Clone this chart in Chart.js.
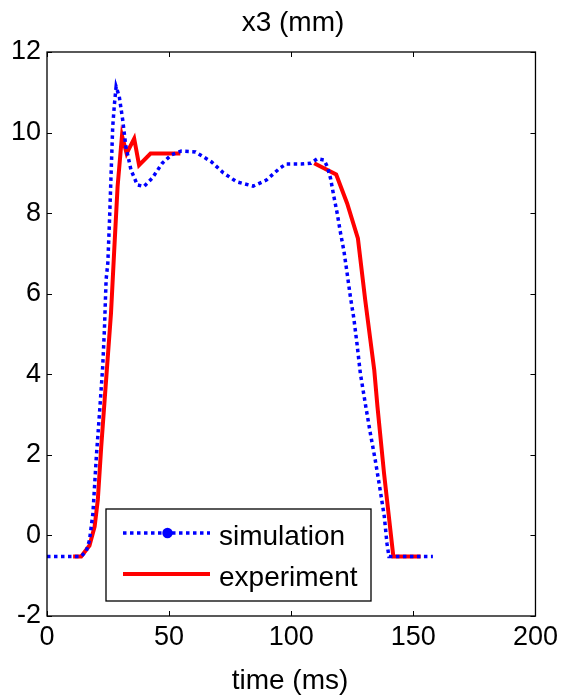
<!DOCTYPE html>
<html>
<head>
<meta charset="utf-8">
<script src="https://cdn.jsdelivr.net/npm/chart.js@4.4.1/dist/chart.umd.min.js"></script>
<style>
  html, body { margin: 0; padding: 0; background: #fff; }
  canvas { display: block; }
</style>
</head>
<body>
<canvas id="c" width="563" height="698"></canvas>
<script>
// ---- data ----
const simT = [0, 14, 16, 17.4, 18.8, 20.2, 21.5, 22.8, 23.5, 24.2, 24.9, 25.6, 26.2, 26.9, 27.6, 28.3, 29.6, 31, 32.3, 34.4, 37, 39.7, 43.1, 47.2, 51, 55, 60.8, 67.4, 72.2, 77.6, 84.4, 89.8, 95.2, 97.9, 104, 108, 110.7, 113.4, 114.8, 116.1, 117.5, 118.8, 120.2, 121.6, 122.9, 124.2, 125.6, 126.9, 128.3, 130.3, 132.4, 134.4, 136.4, 138.1, 139.2, 140, 158];
const simV = [-0.52, -0.52, -0.4, -0.12, 0.55, 1.95, 3.04, 4.18, 5.1, 6.35, 6.76, 7.83, 8.9, 10.14, 10.7, 11.14, 10.89, 10.31, 9.65, 9.07, 8.7, 8.66, 8.87, 9.24, 9.45, 9.54, 9.52, 9.27, 9.0, 8.78, 8.67, 8.82, 9.11, 9.22, 9.22, 9.24, 9.35, 9.32, 9.15, 8.86, 8.4, 8.0, 7.5, 7.05, 6.5, 5.93, 5.4, 4.77, 4.02, 3.28, 2.53, 1.87, 1.13, 0.47, -0.2, -0.52, -0.52];
const expT = [10.7, 14, 17.4, 19.5, 20.8, 22.2, 24.2, 26.2, 27.6, 28.9, 30.7, 32.6, 35.7, 37.7, 42.4, 54.6, 80, 109.4, 118.4, 122.9, 127.3, 130.3, 134, 135.3, 138, 141.8, 153];
const expV = [-0.52, -0.52, -0.25, 0.22, 0.88, 2.2, 3.86, 5.51, 7.17, 8.66, 9.92, 9.48, 9.85, 9.19, 9.48, 9.48, null, 9.24, 8.96, 8.24, 7.37, 5.84, 4.1, 3.2, 1.54, -0.52, -0.52];
const xTicks = [0, 50, 100, 150, 200];
const yTicks = [-2, 0, 2, 4, 6, 8, 10, 12];
const seriesNames = ['simulation', 'experiment'];
const titleText = 'x3 (mm)';
const xLabelText = 'time (ms)';

const FONT = '"Liberation Sans", Arial, sans-serif';
const FS = 28;
const FT = 27;
const BLUE = '#0000ff';
const RED = '#ff0000';

const frame = {
  id: 'frame',
  afterDraw(chart) {
    const ctx = chart.ctx;
    const a = chart.chartArea;
    const xs = chart.scales.x, ys = chart.scales.y;
    ctx.save();
    // box
    ctx.strokeStyle = '#000';
    ctx.lineWidth = 1.3;
    ctx.strokeRect(a.left, a.top, a.right - a.left, a.bottom - a.top);
    // inward ticks on all sides
    const L = 5;
    ctx.beginPath();
    xTicks.forEach(v => {
      const px = Math.round(xs.getPixelForValue(v)) + 0.5;
      ctx.moveTo(px, a.bottom); ctx.lineTo(px, a.bottom - L);
      ctx.moveTo(px, a.top); ctx.lineTo(px, a.top + L);
    });
    yTicks.forEach(v => {
      const py = Math.round(ys.getPixelForValue(v)) + 0.5;
      ctx.moveTo(a.left, py); ctx.lineTo(a.left + L, py);
      ctx.moveTo(a.right, py); ctx.lineTo(a.right - L, py);
    });
    ctx.lineWidth = 1;
    ctx.stroke();
    // title and x label
    ctx.fillStyle = '#000';
    ctx.font = FS + 'px ' + FONT;
    ctx.textAlign = 'center';
    ctx.textBaseline = 'middle';
    ctx.fillText(titleText, 293, 23);
    ctx.fillText(xLabelText, 290, 681);
    // legend
    const bx = 106, by = 509, bw = 265, bh = 92;
    ctx.fillStyle = '#fff';
    ctx.fillRect(bx, by, bw, bh);
    ctx.strokeStyle = '#000';
    ctx.lineWidth = 1.3;
    ctx.strokeRect(bx, by, bw, bh);
    // simulation sample
    ctx.strokeStyle = BLUE;
    ctx.lineWidth = 3.5;
    ctx.setLineDash([3.5, 3.5]);
    ctx.beginPath(); ctx.moveTo(123, 533); ctx.lineTo(210, 533); ctx.stroke();
    ctx.setLineDash([]);
    ctx.fillStyle = BLUE;
    ctx.beginPath(); ctx.arc(167.5, 533, 5.2, 0, Math.PI * 2); ctx.fill();
    // experiment sample
    ctx.strokeStyle = RED;
    ctx.lineWidth = 4;
    ctx.beginPath(); ctx.moveTo(123, 574); ctx.lineTo(210, 574); ctx.stroke();
    ctx.fillStyle = '#000';
    ctx.textAlign = 'left';
    ctx.fillText(seriesNames[0], 219, 537);
    ctx.fillText(seriesNames[1], 219, 578);
    ctx.restore();
  }
};

new Chart(document.getElementById('c'), {
  type: 'line',
  data: {
    datasets: [
      {
        label: seriesNames[0],
        data: simT.map((t, i) => ({ x: t, y: simV[i] })),
        borderColor: BLUE,
        borderWidth: 3.5,
        borderDash: [3.5, 3.5],
        pointRadius: 0,
        fill: false,
        tension: 0
      },
      {
        label: seriesNames[1],
        data: expT.map((t, i) => ({ x: t, y: expV[i] })),
        borderColor: RED,
        borderWidth: 4,
        pointRadius: 0,
        fill: false,
        tension: 0,
        spanGaps: false
      }
    ]
  },
  options: {
    responsive: false,
    animation: false,
    devicePixelRatio: 1,
    layout: { padding: { left: 0, top: 52, right: 24, bottom: 0 } },
    plugins: { legend: { display: false }, title: { display: false }, tooltip: { enabled: false } },
    scales: {
      x: {
        type: 'linear', min: 0, max: 200,
        afterFit(s) { s.height = 82; },
        afterBuildTicks(s) { s.ticks = xTicks.map(v => ({ value: v })); },
        grid: { display: false, drawTicks: false },
        border: { display: false },
        ticks: { color: '#000', padding: 5, maxRotation: 0, autoSkip: false, font: { family: FONT, size: FT } }
      },
      y: {
        type: 'linear', min: -2, max: 12,
        afterFit(s) { s.width = 47; },
        afterBuildTicks(s) { s.ticks = yTicks.map(v => ({ value: v })); },
        grid: { display: false, drawTicks: false },
        border: { display: false },
        ticks: { color: '#000', padding: 6, autoSkip: false, font: { family: FONT, size: FT } }
      }
    }
  },
  plugins: [frame]
});
</script>
</body>
</html>
